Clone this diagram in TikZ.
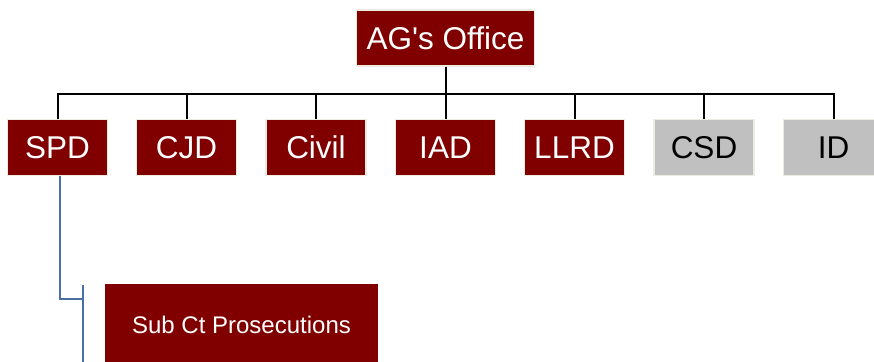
\documentclass[tikz,border=0pt]{standalone}
\usepackage{fontspec}
\setmainfont{Liberation Sans}[Ligatures=TeXOff]
\definecolor{maroon}{HTML}{800000}
\definecolor{cream}{HTML}{EEECE1}
\definecolor{greybox}{HTML}{C0C0C0}
\definecolor{linkblue}{HTML}{4A6FA5}
\tikzset{
  unit/.style={rectangle, draw=cream, line width=1.5bp, fill=maroon, text=white,
    minimum width=100bp, minimum height=56bp, inner sep=0pt,
    font=\fontsize{31.5bp}{36bp}\selectfont},
  greyunit/.style={unit, fill=greybox, text=black},
  subunit/.style={rectangle, fill=maroon, text=white, minimum width=273bp,
    minimum height=82bp, inner sep=0pt, font=\fontsize{24bp}{28bp}\selectfont},
  link/.style={draw=black, line width=2bp},
  bluelink/.style={draw=linkblue, line width=2.2bp}
}
\begin{document}
\begin{tikzpicture}[x=1bp,y=-1bp]
\useasboundingbox (0,0) rectangle (874,361);
\node[unit, minimum width=178bp] (ag) at (445.5,38) {AG's Office};
\node[unit] (spd) at (57.5,147.5) {SPD};
\node[unit] (cjd) at (186.5,147.5) {CJD};
\node[unit] (civil) at (316,147.5) {Civil};
\node[unit] (iad) at (445.5,147.5) {IAD};
\node[unit] (llrd) at (574.5,147.5) {LLRD};
\node[greyunit] (csd) at (704,147.5) {CSD};
\node[greyunit] (id) at (833.5,147.5) {ID};
\node[subunit] (sub) at (241.5,325) {Sub Ct Prosecutions};
\foreach \c in {spd,cjd,civil,iad,llrd,csd,id}
  \draw[link] (ag.south) -- ++(0,27) -| (\c.north);
\coordinate (trunktop) at (83,285);
\coordinate (trunkbot) at (83,370);
\draw[bluelink] ([xshift=2.5bp]spd.south) |- (trunktop |- 0,299);
\draw[bluelink] (trunktop) -- (trunkbot);
\end{tikzpicture}
\end{document}
